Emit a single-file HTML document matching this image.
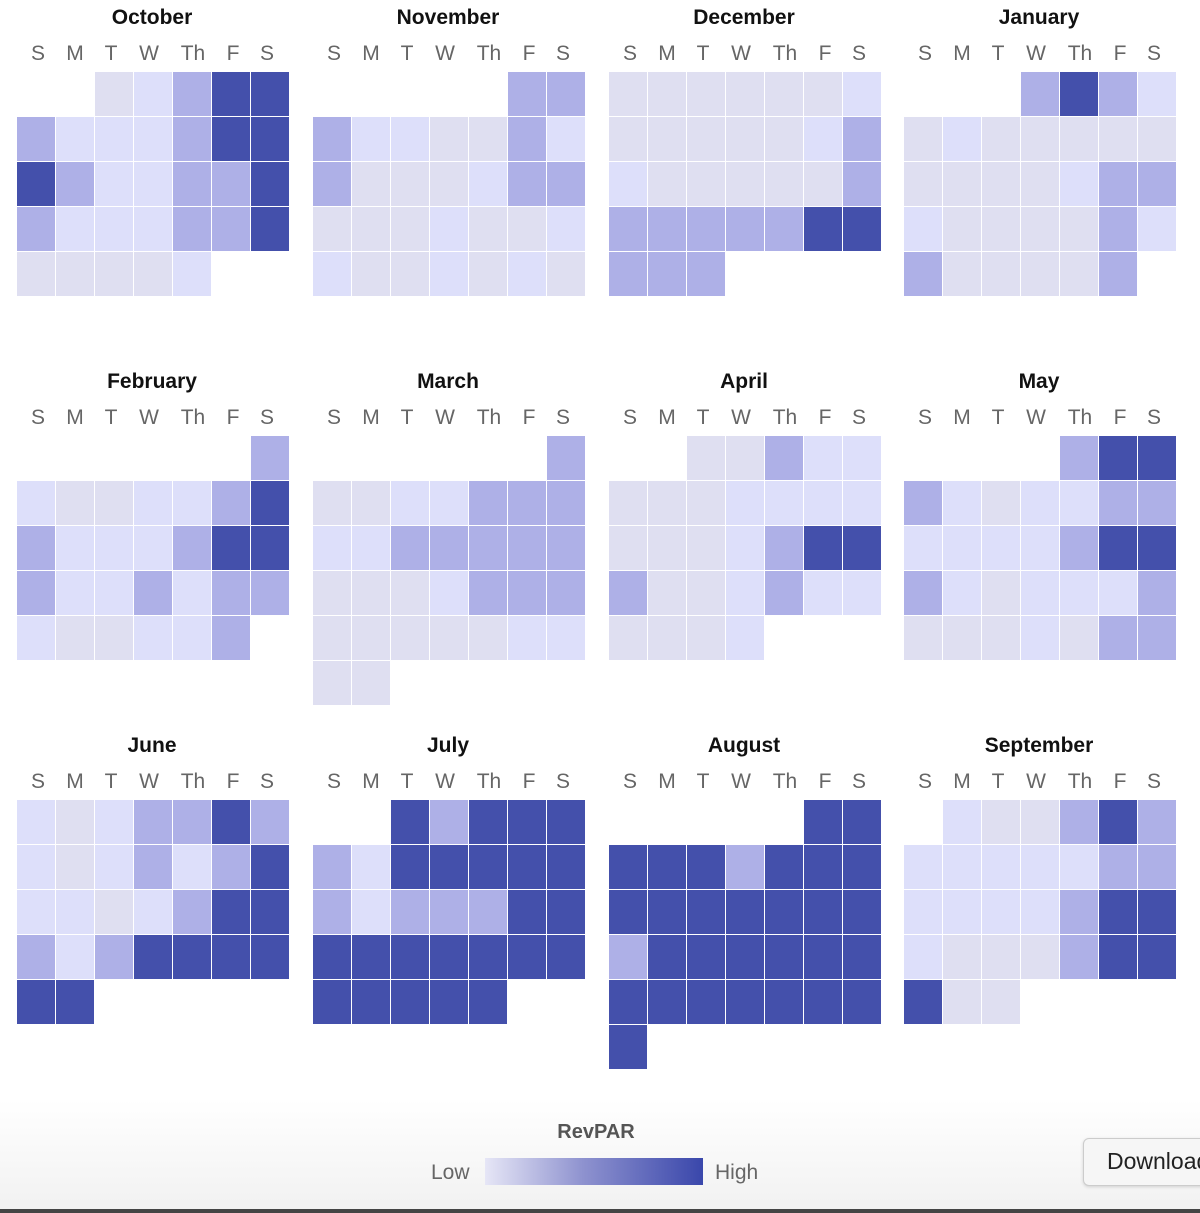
<!DOCTYPE html>
<html><head><meta charset="utf-8"><style>
body{margin:0;width:1200px;height:1213px;overflow:hidden;background:#fff;font-family:"Liberation Sans",sans-serif;position:relative}
.c{position:absolute;width:38px;height:44px}
.t{position:absolute;font-weight:bold;font-size:21px;color:#111;text-align:center;width:270px}
.d{position:absolute;font-size:21px;color:#666;text-align:center;width:40px}
.bot{position:absolute;left:0;top:1100px;width:1200px;height:113px;background:linear-gradient(#fff,#f1f1f1)}
</style></head><body>
<div class="bot"></div>
<div id="g"></div>
<div style="position:absolute;left:500px;top:1121px;width:192px;text-align:center;font-size:20px;font-weight:bold;color:#555">RevPAR</div>
<div style="position:absolute;left:431px;top:1161px;font-size:21px;color:#666">Low</div>
<div style="position:absolute;left:485px;top:1158px;width:218px;height:27px;background:linear-gradient(90deg,#e6e6f6,#8e92cf 45%,#3a47ab)"></div>
<div style="position:absolute;left:715px;top:1161px;font-size:21px;color:#666">High</div>
<div style="position:absolute;left:1083px;top:1138px;width:140px;height:46px;border:1px solid #ccc;border-radius:6px;background:#f6f6f6;box-shadow:0 1px 3px rgba(0,0,0,.15)"></div>
<div style="position:absolute;left:1107px;top:1148px;font-size:23px;color:#222;white-space:nowrap">Download</div>
<div style="position:absolute;left:0;top:1209px;width:1200px;height:4px;background:#444"></div>
<script>
var M=[
["October","..abcdd","cbbbcdd","dcbbccd","cbbbccd","aaaab.."],
["November",".....cc","cbbaacb","caaabcc","aaabaab","baababa"],
["December","aaaaaab","aaaaabc","baaaaac","cccccdd","ccc...."],
["January","...cdcb","abaaaaa","aaaabcc","baaaacb","caaaac."],
["February","......c","baabbcd","cbbbcdd","cbbcbcc","baabbc."],
["March","......c","aabbccc","bbccccc","aaabccc","aaaaabb","aa....."],
["April","..aacbb","aaabbbb","aaabcdd","caabcbb","aaab..."],
["May","....cdd","cbabbcc","bbbbcdd","cbabbbc","aaabacc"],
["June","babccdc","babcbcd","bbabcdd","cbcdddd","dd....."],
["July","..dcddd","cbddddd","cbcccdd","ddddddd","ddddd.."],
["August",".....dd","dddcddd","ddddddd","cdddddd","ddddddd","d......"],
["September",".baacdc","bbbbbcc","bbbbcdd","baaacdd","daa...."]];
var col={a:"#dfdff1",b:"#dddffa",c:"#aeb0e7",d:"#4450ab"};
var X=[17,313,609,904],Y=[72,436,800],days=["S","M","T","W","Th","F","S"],dc=[21,58,94,132,176,216,250],h="";
M.forEach(function(m,i){var x0=X[i%4],y0=Y[Math.floor(i/4)];
h+='<div class="t" style="left:'+x0+'px;top:'+(y0-66)+'px">'+m[0]+'</div>';
days.forEach(function(d,j){h+='<div class="d" style="left:'+(x0+dc[j]-20)+'px;top:'+(y0-30)+'px">'+d+'</div>';});
for(var r=1;r<m.length;r++)for(var j=0;j<7;j++){var ch=m[r][j];if(ch!='.')h+='<div class="c" style="left:'+(x0+j*39)+'px;top:'+(y0+(r-1)*45)+'px;background:'+col[ch]+'"></div>';}
});
document.getElementById("g").innerHTML=h;
</script>
</body></html>
